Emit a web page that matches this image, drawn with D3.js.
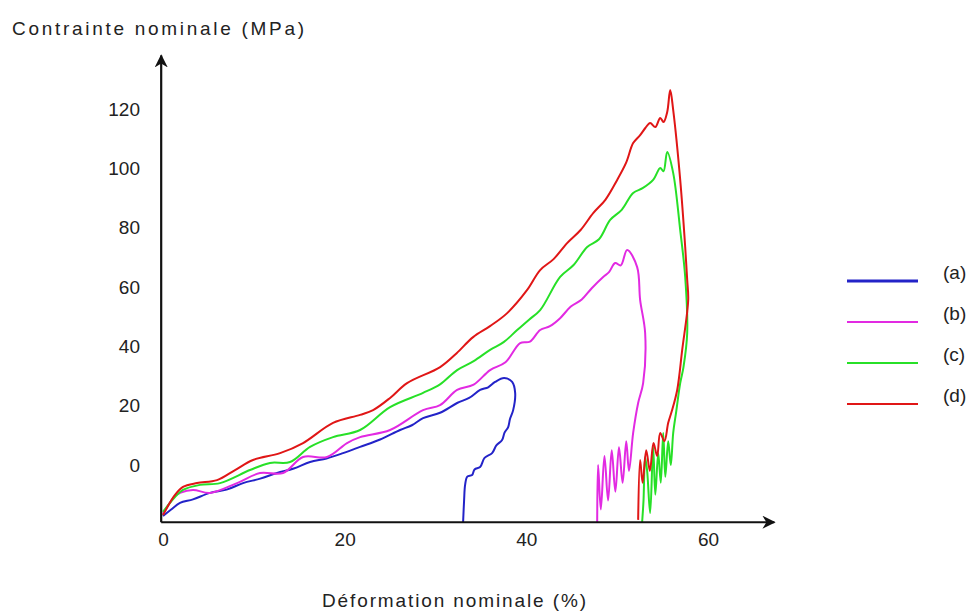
<!DOCTYPE html>
<html>
<head>
<meta charset="utf-8">
<script src="https://cdn.jsdelivr.net/npm/d3@7"></script>
<style>
body { margin: 0; background: #ffffff; }
text { font-family: "Liberation Sans", Arial, sans-serif; fill: #222222; }
</style>
</head>
<body>
<svg id="chart" width="974" height="614"></svg>
<script>
var curveA = [[0,-17.2],[0.9,-15],[1.87,-12.8],[3.3,-11.6],[5.18,-9.4],[7,-8.3],[8.81,-6.1],[10.7,-4.6],[12.56,-2.7],[14.4,-1.2],[16.19,1.0],[18,2.2],[19.82,4.0],[21.7,6.1],[23.9,8.6],[26.1,11.8],[27.4,13.4],[28.63,15.8],[30.5,17.6],[32.38,20.9],[33.7,22.6],[34.91,25.3],[35.8,26.2],[36.56,28.0],[37.56,29.3],[38.44,28.0],[38.77,24.3],[38.55,18.5],[38.2,15.5],[38.0,12.8],[37.6,10.9],[37.33,8.4],[36.7,6.6],[36.23,4.0],[35.4,2.4],[34.91,-0.7],[34.3,-1.5],[34.03,-3.4],[33.5,-3.9],[33.26,-6.7],[33.15,-11.8],[33.04,-19.2]];
var curveB = [[0,-16.5],[1.32,-10.4],[1.87,-9.4],[3.3,-8.4],[5.18,-9.4],[8.15,-6.1],[10.68,-2.7],[13.22,-2.7],[15.42,2.7],[18.06,2.7],[20.26,7.4],[21.7,9.4],[25.0,11.8],[28.63,18.5],[30.5,20.2],[32.38,25.3],[34.2,27.1],[36.01,32.0],[37.7,34.6],[39.32,41.1],[40.4,41.6],[41.52,45.5],[42.6,46.8],[43.72,49.5],[44.9,53.4],[46.1,55.8],[47.2,59.6],[48.46,63.4],[49.1,65.0],[49.78,68.1],[50.4,67.3],[51.1,72.5],[52.2,66.7],[52.53,55.6],[53.08,44.5],[52.86,27.6],[52.31,20.9],[51.76,10.8],[51.3,-2],[51.0,8],[50.6,-6],[50.2,6],[49.8,-9],[49.4,5],[49.0,-12],[48.6,3],[48.2,-15],[47.9,0],[47.8,-19.2]];
var curveC = [[0,-15.8],[1.32,-10.8],[2.2,-8.4],[4.07,-6.7],[6.28,-6.1],[9.58,-1.7],[11.78,0.7],[13.99,1.0],[16.19,6.1],[18.72,9.4],[21.7,11.8],[25.0,19.5],[28.63,24.3],[30.5,27.2],[32.38,32.0],[34.2,35.0],[36.01,38.8],[37.5,41.4],[38.99,45.5],[40.3,49.0],[41.52,52.2],[43.72,63.4],[45.2,67.4],[46.7,73.5],[48.0,76.1],[49.23,82.6],[50.5,86.0],[51.76,91.7],[52.8,93.3],[53.96,96.1],[54.74,100.1],[55.1,99.0],[55.51,105.5],[56.17,98.4],[56.94,79.2],[57.49,63.4],[57.71,44.5],[57.3,33],[56.94,27.6],[56.5,18],[56.17,10.8],[55.9,0],[55.62,8],[55.3,-4],[55.07,10.8],[54.8,-6],[54.52,4],[54.2,-10],[53.96,6.1],[53.63,-16.2],[53.3,-2],[53.08,2.7],[52.9,-12],[52.75,-19.2]];
var curveD = [[0,-16.9],[1.32,-10.1],[2.2,-7.4],[3.74,-6.1],[5.95,-5.1],[7.93,-1.7],[9.91,1.7],[12.89,4.0],[15.42,7.4],[18.72,14.2],[21.7,16.9],[23.13,18.5],[25.0,22.6],[26.87,27.6],[30.51,33.0],[32.3,37.6],[34.14,43.1],[36.0,46.8],[37.89,51.2],[40.09,59.0],[41.52,65.7],[43.0,69.4],[44.49,74.8],[46.0,79.3],[47.36,84.9],[48.7,89.4],[50.0,96.1],[51.0,102.0],[51.76,108.5],[52.53,111.2],[53.1,113.6],[53.63,115.3],[54.2,113.9],[54.74,117.0],[55.1,115.6],[55.51,119.0],[55.84,126.4],[56.17,119.6],[56.94,96.1],[57.49,73.5],[57.71,62.4],[57.82,55.6],[57.16,38.8],[56.61,25.3],[56.0,18],[55.62,14.2],[55.2,8],[54.74,10.8],[54.4,3],[54.0,7.4],[53.6,-2],[53.2,5],[52.8,-6],[52.53,1.7],[52.31,-18.5]];

var seriesNames = ["(a)", "(b)", "(c)", "(d)"];
var seriesColors = ["#2323c8", "#e22ae2", "#27e027", "#e01616"];
var xTicks = [0, 20, 40, 60];
var yTicks = [0, 20, 40, 60, 80, 100, 120];

var svg = d3.select("#chart");
var x = d3.scaleLinear().domain([0, 60]).range([163, 708]);
var y = d3.scaleLinear().domain([0, 120]).range([465, 109]);

// arrow heads
var defs = svg.append("defs");
defs.append("marker").attr("id", "arrow").attr("viewBox", "0 0 10 10").attr("refX", "9").attr("refY", "5").attr("markerWidth", "6").attr("markerHeight", "6").attr("markerUnits", "strokeWidth").attr("orient", "auto").append("path").attr("d", "M0,0 L10,5 L0,10 L3,5 Z").attr("fill", "#111111");

// curves
var line = d3.line().curve(d3.curveCatmullRom.alpha(0.5)).x(function (d) { return x(d[0]); }).y(function (d) { return y(d[1]); });
var curves = [curveA, curveB, curveC, curveD];
svg.append("g").selectAll("path").data(curves).enter().append("path").attr("d", line).attr("fill", "none").attr("stroke", function (d, i) { return seriesColors[i]; }).attr("stroke-width", "2").attr("stroke-linejoin", "round");

// axes lines drawn by hand so that they can carry the arrows
svg.append("line").attr("x1", x(-0.2)).attr("y1", y(-19.3)).attr("x2", x(67.3)).attr("y2", y(-19.3)).attr("stroke", "#111111").attr("stroke-width", "2.2").attr("marker-end", "url(#arrow)");
svg.append("line").attr("x1", x(-0.2)).attr("y1", y(-19.3)).attr("x2", x(-0.2)).attr("y2", y(138)).attr("stroke", "#111111").attr("stroke-width", "2.2").attr("marker-end", "url(#arrow)");

var xAxis = svg.append("g").attr("transform", "translate(0," + y(-19.3) + ")").call(d3.axisBottom(x).tickValues(xTicks).tickSize(0).tickPadding(10));
var yAxis = svg.append("g").attr("transform", "translate(" + (x(0) - 23) + ",0)").call(d3.axisLeft(y).tickValues(yTicks).tickSize(0).tickPadding(0));
svg.selectAll(".domain").remove();
svg.selectAll(".tick text").attr("font-family", "Liberation Sans, Arial, sans-serif").attr("font-size", "19px").attr("fill", "#222222");

// axis titles
svg.append("text").attr("x", 12).attr("y", 35).attr("font-size", "19px").attr("textLength", "292").attr("lengthAdjust", "spacing").text("Contrainte nominale (MPa)");
svg.append("text").attr("x", 322).attr("y", 607).attr("font-size", "19px").attr("textLength", "264").attr("lengthAdjust", "spacing").text("Déformation nominale (%)");

// legend
var legendY = [281, 322, 363, 404];
var legend = svg.append("g").selectAll("g").data(seriesNames).enter().append("g").attr("transform", function (d, i) { return "translate(0," + legendY[i] + ")"; });
legend.append("line").attr("x1", 847).attr("x2", 918).attr("y1", 0).attr("y2", 0).attr("stroke", function (d, i) { return seriesColors[i]; }).attr("stroke-width", function (d, i) { return i == 0 ? 3 : 2; });
legend.append("text").attr("x", 943).attr("y", -2).attr("font-size", "19px").text(function (d) { return d; });
</script>
</body>
</html>
